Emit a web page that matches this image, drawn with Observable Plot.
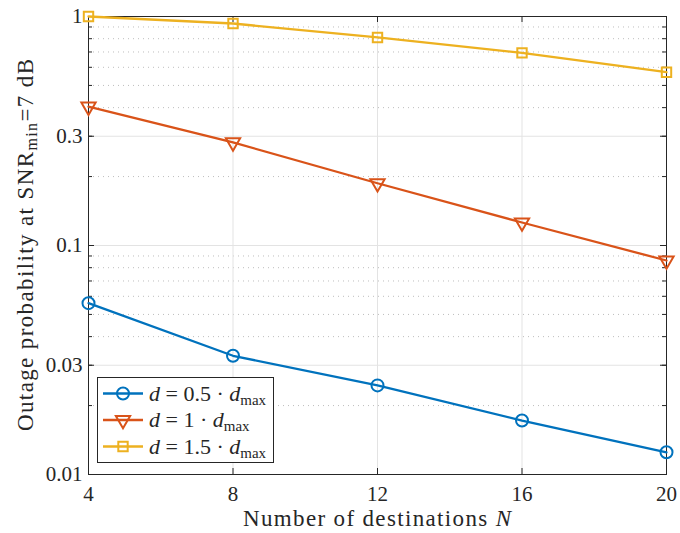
<!DOCTYPE html>
<html>
<head>
<meta charset="utf-8">
<script src="https://cdn.jsdelivr.net/npm/d3@7"></script>
<script src="https://cdn.jsdelivr.net/npm/@observablehq/plot@0.6"></script>
<style>
  html, body { margin: 0; padding: 0; background: #fff; }
  #chart svg { display: block; }
  #chart svg text { font-family: "Liberation Serif", "DejaVu Serif", serif; }
</style>
</head>
<body>
<div id="chart"></div>
<script>
const N = [4, 8, 12, 16, 20];
const p05 = [0.056, 0.033, 0.0245, 0.0172, 0.0125];
const p10 = [0.404, 0.282, 0.187, 0.126, 0.086];
const p15 = [1.0, 0.932, 0.810, 0.694, 0.571];
const seriesNames = ["0.5", "1", "1.5"];
const colors = ["#0072BD", "#D95319", "#EDB120"];
const symbols = ["circle", "triangle", "square"];
const yTicks = [0.01, 0.03, 0.1, 0.3, 1];
const yTickLabels = ["0.01", "0.03", "0.1", "0.3", "1"];
const yMinor = [0.02, 0.04, 0.05, 0.06, 0.07, 0.08, 0.09, 0.2, 0.4, 0.5, 0.6, 0.7, 0.8, 0.9];
const yAllMinor = [0.02, 0.03, 0.04, 0.05, 0.06, 0.07, 0.08, 0.09, 0.2, 0.3, 0.4, 0.5, 0.6, 0.7, 0.8, 0.9];
const xGrid = [8, 12, 16];

const values = [p05, p10, p15];
const data = [];
values.forEach((arr, s) => arr.forEach((v, i) => data.push({N: N[i], p: v, s})));

const W = 680, H = 533, mL = 88, mR = 14, mT = 16, mB = 59;
const fw = W - mL - mR, fh = H - mT - mB;
const axisColor = "#262626";
const font = "'Liberation Serif', 'DejaVu Serif', serif";

const marks = [
  Plot.ruleY(yMinor, {y: d => d, stroke: "#bdbdbd", strokeWidth: 1, strokeDasharray: "1,4"}),
  Plot.ruleY(yTicks, {y: d => d, stroke: "#e3e3e3", strokeWidth: 1}),
  Plot.ruleX(xGrid, {x: d => d, stroke: "#e3e3e3", strokeWidth: 1}),
  Plot.frame({stroke: axisColor, strokeWidth: 1}),
  Plot.tickY(yTicks, {y: d => d, insetRight: fw - 6, stroke: axisColor}),
  Plot.tickY(yTicks, {y: d => d, insetLeft: fw - 6, stroke: axisColor}),
  Plot.tickY(yAllMinor, {y: d => d, insetRight: fw - 4, stroke: axisColor}),
  Plot.tickY(yAllMinor, {y: d => d, insetLeft: fw - 4, stroke: axisColor}),
  Plot.tickX(N, {x: d => d, insetTop: fh - 6, stroke: axisColor}),
  Plot.tickX(N, {x: d => d, insetBottom: fh - 6, stroke: axisColor}),
  Plot.axisX({ticks: N, tickSize: 0, tickPadding: 12, tickFormat: d => String(d), label: null, fontSize: 21, fill: axisColor}),
  Plot.axisY({ticks: yTicks, tickSize: 0, tickPadding: 6, tickFormat: d => yTickLabels[yTicks.indexOf(d)], label: null, fontSize: 21, fill: axisColor}),
];
values.forEach((arr, s) => {
  const sd = data.filter(d => d.s === s);
  marks.push(Plot.line(sd, {x: "N", y: "p", stroke: colors[s], strokeWidth: 2.3}));
  marks.push(Plot.dot(sd, {x: "N", y: "p", symbol: symbols[s], r: s === 0 ? 6 : 5.3, rotate: s === 1 ? 180 : 0, stroke: colors[s], strokeWidth: 2, fill: "none"}));
});

const chart = Plot.plot({
  width: W, height: H,
  marginLeft: mL, marginRight: mR, marginTop: mT, marginBottom: mB,
  style: {fontFamily: font, background: "#fff", color: axisColor},
  x: {domain: [4, 20]},
  y: {type: "log", domain: [0.01, 1]},
  marks
});
document.getElementById("chart").appendChild(chart);

const svg = d3.select(chart);
const xl = svg.append("text")
  .attr("x", mL + fw / 2).attr("y", 526)
  .attr("text-anchor", "middle")
  .attr("font-size", 23).attr("fill", axisColor)
  .attr("textLength", 268).attr("lengthAdjust", "spacing");
xl.append("tspan").text("Number of destinations ");
xl.append("tspan").attr("font-style", "italic").text("N");

const yl = svg.append("text")
  .attr("transform", `translate(33,${mT + fh / 2}) rotate(-90)`)
  .attr("text-anchor", "middle")
  .attr("font-size", 23).attr("fill", axisColor)
  .attr("textLength", 372).attr("lengthAdjust", "spacing");
yl.append("tspan").text("Outage probability at SNR");
yl.append("tspan").attr("font-size", 16).attr("dy", 4).text("min");
yl.append("tspan").attr("dy", -4).text("=7 dB");

const lg = svg.append("g").attr("text-anchor", "start");
lg.append("rect").attr("x", 97.5).attr("y", 377.5).attr("width", 176).attr("height", 85)
  .attr("fill", "#fff").attr("stroke", axisColor).attr("stroke-width", 1);
seriesNames.forEach((nm, i) => {
  const cy = 393.5 + i * 26.5;
  lg.append("line").attr("x1", 103).attr("x2", 143).attr("y1", cy).attr("y2", cy)
    .attr("stroke", colors[i]).attr("stroke-width", 2.3);
  const sym = d3.symbol().type([d3.symbolCircle, d3.symbolTriangle, d3.symbolSquare][i])
    .size(i === 0 ? Math.PI * 36 : Math.PI * 5.3 * 5.3);
  lg.append("path").attr("d", sym())
    .attr("transform", `translate(123,${cy})${i === 1 ? " rotate(180)" : ""}`)
    .attr("fill", "none").attr("stroke", colors[i]).attr("stroke-width", 2);
  const t = lg.append("text").attr("x", 149).attr("y", cy + 7).attr("text-anchor", "start")
    .attr("font-size", 22).attr("fill", axisColor);
  t.append("tspan").attr("font-style", "italic").text("d");
  t.append("tspan").text(" = " + nm + " · ");
  t.append("tspan").attr("font-style", "italic").text("d");
  t.append("tspan").attr("font-size", 15).attr("dy", 4).text("max");
});
</script>
</body>
</html>
